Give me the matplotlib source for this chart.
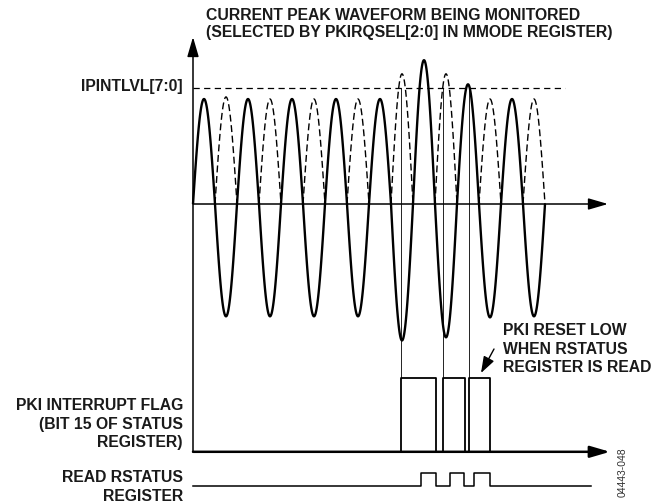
import matplotlib.pyplot as plt
import numpy as np

plt.rcParams['font.family'] = ['Liberation Sans', 'DejaVu Sans']

# waveform: one entry per cycle (time unit = half cycle)
pos_peaks = [1.0, 1.0, 1.0, 1.0, 1.0, 1.37, 1.14, 1.0]      # solid positive half cycles
neg_troughs = [1.07, 1.07, 1.07, 1.07, 1.30, 1.27, 1.08, 1.07]  # solid negative half cycles
rect_peaks = [1.02, 1.0, 1.0, 1.0, 1.24, 1.24, 1.0, 1.0]     # dashed rectified half cycles
level = 1.108                                               # IPINTLVL[7:0]

# PKI interrupt flag pulses (time units)
flag_rise = [9.44, 11.38, 12.55]
flag_fall = [11.03, 12.36, 13.50]
flag_low, flag_high = -2.36, -1.657

# read RSTATUS register pulses
read_rise = [10.35, 11.68, 12.79]
read_fall = [11.03, 12.33, 13.50]
read_low, read_high = -2.686, -2.562
read_end = 18.1

X0, XS = 193, 22.0   # pixel of time 0, pixels per half cycle
Y0, YS = 204, 105.0  # pixel of zero amplitude, pixels per unit


def tx(px):
    return (px - X0) / XS


def ty(py):
    return (Y0 - py) / YS


fig = plt.figure(figsize=(6.66, 5.04), dpi=100)
ax = fig.add_axes([0, 0, 1, 1])
ax.set_xlim(tx(0), tx(666))
ax.set_ylim(ty(504), ty(0))
ax.axis('off')

# waveform
n_half = 2 * len(pos_peaks)
for k in range(n_half):
    t = np.linspace(k, k + 1, 60)
    s = np.sin(np.pi * (t - k))
    if k % 2 == 0:
        ax.plot(t, pos_peaks[k // 2] * s, color='black', lw=1.7, solid_capstyle='butt')
    else:
        ax.plot(t, -neg_troughs[k // 2] * s, color='black', lw=1.7, solid_capstyle='butt')
        ax.plot(t, rect_peaks[k // 2] * s, color='black', lw=1.0, dashes=(5, 2.6))

# threshold level
ax.plot([0, tx(565)], [level, level], color='black', lw=0.9, dashes=(5, 3.5))

# axes with arrows
arr = dict(arrowstyle='-|>,head_length=1.2,head_width=0.35', color='black',
           shrinkA=0, shrinkB=0, mutation_scale=10)
ax.annotate('', xy=(0, ty(37)), xytext=(0, flag_low), arrowprops=dict(arr, lw=1.1))
ax.annotate('', xy=(tx(608), 0), xytext=(0, 0), arrowprops=dict(arr, lw=1.1))
ax.annotate('', xy=(tx(610), flag_low), xytext=(0, flag_low), arrowprops=dict(arr, lw=1.8))

# flag pulses and trigger lines
for r, f in zip(flag_rise, flag_fall):
    ax.plot([r, r, f, f], [flag_low, flag_high, flag_high, flag_low], color='black', lw=1.3)
    ax.plot([r, r], [flag_high, level], color='black', lw=0.6)

# read strobe
rx, ry = [0], [read_low]
for r, f in zip(read_rise, read_fall):
    rx += [r, r, f, f]
    ry += [read_low, read_high, read_high, read_low]
rx.append(read_end)
ry.append(read_low)
ax.plot(rx, ry, color='black', lw=1.1)

# annotation arrow
ax.annotate('', xy=(tx(481), ty(373)), xytext=(tx(494), ty(349)),
            arrowprops=dict(arrowstyle='-|>,head_length=1.0,head_width=0.35', color='black',
                            lw=1.0, shrinkA=0, shrinkB=0, mutation_scale=10))

fs = 11.3
bold = dict(fontsize=fs, fontweight='bold', color='#1a1a1a')
ax.text(tx(206), ty(15), 'CURRENT PEAK WAVEFORM BEING MONITORED', ha='left', va='center', **bold)
ax.text(tx(206), ty(33), '(SELECTED BY PKIRQSEL[2:0] IN MMODE REGISTER)', ha='left', va='center', **bold)
ax.text(tx(183), ty(87), 'IPINTLVL[7:0]', ha='right', va='center', **bold)
ax.text(tx(503), ty(349), 'PKI RESET LOW\nWHEN RSTATUS\nREGISTER IS READ', ha='left', va='center',
        linespacing=1.3, **bold)
ax.text(tx(183), ty(424), 'PKI INTERRUPT FLAG\n(BIT 15 OF STATUS\nREGISTER)', ha='right', va='center',
        linespacing=1.28, multialignment='right', **bold)
ax.text(tx(183), ty(487), 'READ RSTATUS\nREGISTER', ha='right', va='center',
        linespacing=1.28, multialignment='right', **bold)
ax.text(tx(623), ty(472), '04443-048', rotation=90, ha='center', va='center', fontsize=7.5, color='#333333')

fig.savefig('out.png', dpi=100)
